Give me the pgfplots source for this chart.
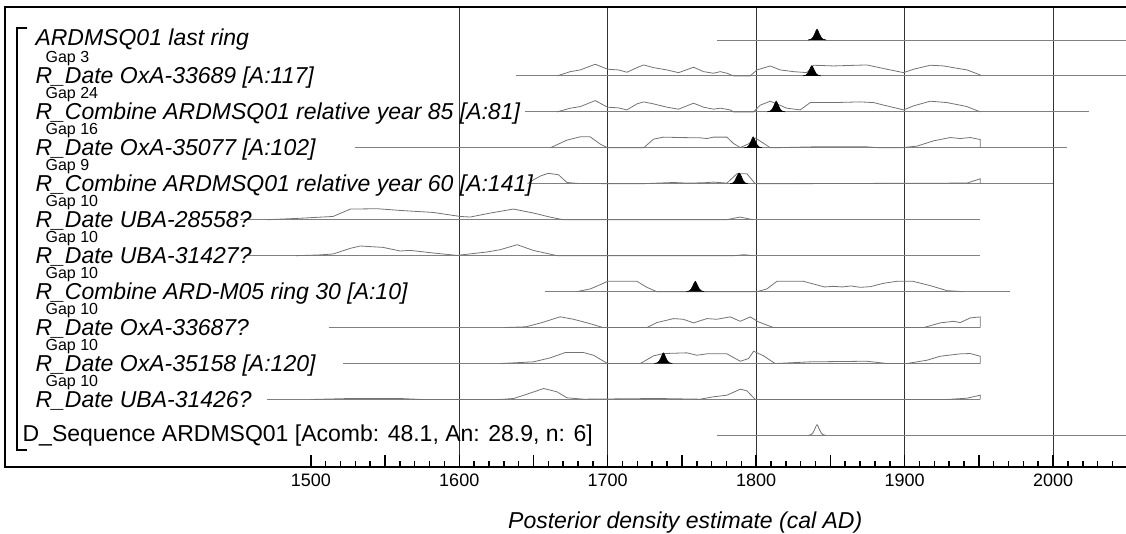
\documentclass[border=0pt]{standalone}
\usepackage{pgfplots}
\pgfplotsset{compat=1.18}
\usepackage{fontspec}
\setmainfont{Liberation Sans}

\newcommand\rowfont{\fontsize{11.5}{13}\selectfont\itshape}
\newcommand\gapfont{\fontsize{8}{9}\selectfont}

% y unit = 1 px of the reference, rows sit on these baselines
\pgfplotsset{
  base/.style={black!50, line width=0.45pt},
  prior/.style={black!55, line width=0.4pt},
  post/.style={fill=black, draw=black, line width=0.3pt},
  r1/.style={y filter/.expression={y+427}},
  r2/.style={y filter/.expression={y+391.05}},
  r3/.style={y filter/.expression={y+355.1}},
  r4/.style={y filter/.expression={y+319.15}},
  r5/.style={y filter/.expression={y+283.2}},
  r6/.style={y filter/.expression={y+247.25}},
  r7/.style={y filter/.expression={y+211.3}},
  r8/.style={y filter/.expression={y+175.35}},
  r9/.style={y filter/.expression={y+139.4}},
  r10/.style={y filter/.expression={y+103.45}},
  r11/.style={y filter/.expression={y+67.5}},
  r12/.style={y filter/.expression={y+31.55}},
}

\begin{document}
\begin{tikzpicture}
\begin{axis}[
  x=0.74225pt, y=0.5pt,
  xmin=1294, xmax=2070, ymin=0, ymax=460,
  enlargelimits=false, clip=false,
  axis line style={line width=1pt},
  ytick=\empty,
  xtick={1600,1700,1800,1900,2000},
  extra x ticks={1500,1550,1650,1750,1850,1950,2050},
  extra x tick labels={1500,,,,,,},
  extra x tick style={grid=none},
  minor xtick={1510,1520,...,2040},
  xtick pos=bottom,
  tick align=inside,
  major tick length=6pt, minor tick length=3pt,
  xmajorgrids,
  major grid style={black!80, line width=0.5pt},
  tick style={black, line width=0.75pt},
  xticklabel style={font=\fontsize{9}{10}\selectfont, yshift=0pt},
  /pgf/number format/assume math mode=true,
  /pgf/number format/set thousands separator={},
]

% ---- row 1: ARDMSQ01 last ring
\addplot[base, r1] table {
1773.6 0
2070 0
};
\addplot[post, r1] table {
1835 0
1837 0.8
1838.2 2.5
1839.4 6
1840.5 9.8
1841 10.7
1841.5 9.8
1842.6 6
1843.8 2.5
1845 0.8
1847 0
};

% ---- row 2: OxA-33689
\addplot[base, r2] table {
1638 0
2070 0
};
\addplot[prior, r2] table {
1665.8 0
1674.8 4.3
1681.5 6
1691.6 11.7
1699.9 6.7
1707.3 6
1712.9 3.7
1719.7 8.3
1724.2 11
1730.9 8.3
1739.9 6
1747.7 3.3
1757.8 8.7
1764.6 4.3
1771.3 2.7
1775.8 4.3
1780.3 2.7
1784.8 0
1796.0 0
1800.5 6
1809.5 10
1816.2 6
1825.2 4.3
1834.2 3.3
1838.7 10.7
1852.1 10
1874.6 11
1888.1 6.7
1899.3 3.3
1906.0 6.7
1917.3 10.7
1926.2 10
1935.2 7.7
1942.0 6
1951.0 1
1951.0 0
};
\addplot[post, r2] table {
1831.5 0
1833.5 0.8
1834.7 2.5
1835.9 6
1837 9.4
1837.5 10.3
1838 9.4
1839.1 6
1840.3 2.5
1841.5 0.8
1843.5 0
};

% ---- row 3: Combine relative year 85
\addplot[base, r3] table {
1644 0
2024.5 0
};
\addplot[prior, r3] table {
1665.8 0
1674.8 3.7
1681.5 5.3
1691.6 11.3
1699.9 4.7
1707.3 4
1712.9 2
1719.7 8
1724.2 10
1730.9 8
1739.9 4.7
1747.7 2.7
1757.8 8.7
1764.6 4.7
1771.3 2.7
1775.8 3.7
1782.5 2
1784.8 0
1798.3 0
1802.7 6.7
1809.5 10.7
1820.7 3.7
1829.7 2
1836.4 9.3
1852.1 9.3
1870.1 10
1879.1 9.3
1888.1 6
1899.3 2
1906.0 6
1917.3 10.7
1928.5 9.3
1937.5 6.7
1942.0 5.3
1951.0 0
};
\addplot[post, r3] table {
1807.5 0
1809.5 0.8
1810.7 2.5
1811.9 6
1813 9.8
1813.5 10.7
1814 9.8
1815.1 6
1816.3 2.5
1817.5 0.8
1819.5 0
};

% ---- row 4: OxA-35077
\addplot[base, r4] table {
1529.5 0
2009.6 0
};
\addplot[prior, r4] table {
1661.3 0
1672.5 7.7
1681.5 11
1688.2 11
1695.0 3.7
1699.9 0
1724.2 0
1730.9 8.7
1737.6 10.7
1748.9 10.3
1762.3 10
1766.8 9.3
1771.3 10.7
1780.3 10.7
1784.8 4.3
1789.3 0.3
1794.9 4
1799.5 9.8
1804.5 5
1809.6 0
1838.7 1
1874.6 1
1883.6 0
1897.0 0
1908.3 1.7
1919.5 7
1930.7 10.3
1937.5 9.3
1944.2 10.3
1951.0 8.3
1951.0 0
};
\addplot[post, r4] table {
1792 0
1794 0.8
1795.2 2.6
1796.4 6.2
1797.5 10
1798 11
1798.5 10
1799.6 6.2
1800.8 2.6
1802 0.8
1804 0
};

% ---- row 5: Combine relative year 60
\addplot[base, r5] table {
1648 0
2000 0
};
\addplot[prior, r5] table {
1646 0
1650 4
1655 8
1660 10.5
1666.9 9
1672.5 1.3
1680.4 0.3
1721.9 0
1744.4 1.3
1753.3 0.7
1764.6 1
1771.3 1.7
1780.3 0.7
1787.0 10
1793.8 10
1799.4 0
1942.0 0.7
1951.0 5
1951.0 0
};
\addplot[post, r5] table {
1782.5 0
1784.5 1
1785.7 3
1786.9 7
1788 10.2
1788.5 10.7
1789 10.2
1790.1 7
1791.3 3
1792.5 1
1794.5 0
};

% ---- row 6: UBA-28558?
\addplot[base, r6] table {
1452 0
1951 0
};
\addplot[prior, r6] table {
1470.6 0
1493 1.5
1515 3.3
1526.7 10.7
1545 11
1560.3 9.3
1582.4 7.3
1600.6 3.3
1607.3 2.7
1621 6.7
1636.5 10.7
1650 6.7
1661 2.7
1670 0
1780 0
1789 2.7
1798 0
};

% ---- row 7: UBA-31427?
\addplot[base, r7] table {
1458 0
1951 0
};
\addplot[prior, r7] table {
1490 0
1505 0.7
1515 1.7
1526.5 7.3
1533.2 9.7
1548.7 8.3
1560.2 4.7
1567 5.3
1582.4 2.7
1598.5 0.3
1618.7 3.7
1627.6 6
1639 11
1649.8 5.3
1666 0
1785 0
1792 1
1798 0
};

% ---- row 8: Combine ARD-M05 ring 30
\addplot[base, r8] table {
1657.5 0
1971.2 0
};
\addplot[prior, r8] table {
1679.2 0
1688.2 2.7
1695.0 7
1699.9 10.3
1719.7 10.3
1726.4 4.3
1733.1 0
1800.5 0
1807.2 2.7
1814.0 10.3
1831.9 10.3
1838.5 7.7
1846 4.7
1852 5.3
1858 4.7
1864 5.7
1870 4.3
1877 5
1885.6 8.3
1894.6 10.3
1905.8 10.3
1917.3 6
1928.6 1
1939.5 0
};
\addplot[post, r8] table {
1753 0
1755 0.8
1756.2 2.5
1757.4 6
1758.5 9.4
1759 10.3
1759.5 9.4
1760.6 6
1761.8 2.5
1763 0.8
1765 0
};

% ---- row 9: OxA-33687?
\addplot[base, r9] table {
1512 0
1951 0
};
\addplot[prior, r9] table {
1630 0
1645 0.8
1655 4.7
1668 10.8
1677 8.3
1688 4
1697 0
1726.4 0
1733.1 5
1744.4 9
1751 8.3
1757.8 4.7
1766.8 9
1773.5 8.3
1782.5 10.7
1789.3 6.3
1796 10.7
1801.6 5.7
1811.7 0
1912.8 0
1924 4.7
1933 6.3
1937.5 5
1944.2 9.7
1951 10.7
1951 0
};

% ---- row 10: OxA-35158
\addplot[base, r10] table {
1522 0
1951 0
};
\addplot[prior, r10] table {
1627.6 0
1650 1.7
1661.3 5.7
1671.4 11
1683.7 11
1690.4 8.3
1699.9 0
1721.9 0
1730.9 7.7
1737.6 10
1753.3 10.7
1760.1 8.3
1766.8 9.7
1780.3 9.7
1789.3 2.3
1794.9 5
1798.3 12.3
1805 7.7
1812.8 0
1836.4 1.7
1874.6 2.3
1888.1 0
1901.5 0
1915 3.3
1924 7.3
1937.5 9.7
1944.2 10
1951 7.3
1951 0
};
\addplot[post, r10] table {
1731.5 0
1733.5 0.8
1734.7 2.5
1735.9 6
1737 9.8
1737.5 10.7
1738 9.8
1739.1 6
1740.3 2.5
1741.5 0.8
1743.5 0
};

% ---- row 11: UBA-31426?
\addplot[base, r11] table {
1470.6 0
1951 0
};
\addplot[prior, r11] table {
1500 0
1526.7 1
1560 1
1575 0
1627.6 0
1636.6 1
1645.6 5.3
1656.8 11
1665.8 7.7
1672.5 1.7
1683.7 0.3
1733.1 1
1762.3 0.3
1771.3 2.7
1780.3 4.3
1789.3 10.3
1793.8 8.7
1799.4 0
1928.5 0
1942 1.3
1951 4.3
1951 0
};

% ---- row 12: D_Sequence
\addplot[base, r12] table {
1773.6 0
2070 0
};
\addplot[prior, r12] table {
1835 0
1837 0.8
1838.2 2.5
1839.4 6
1840.5 9.8
1841 10.7
1841.5 9.8
1842.6 6
1843.8 2.5
1845 0.8
1847 0
};

% labels
\node[anchor=base west, inner sep=0, font=\rowfont] at (axis cs:1314.3,421.75) {ARDMSQ01 last ring};
\node[anchor=base west, inner sep=0, font=\rowfont] at (axis cs:1314.3,383.05) {R\_Date OxA-33689 [A:117]};
\node[anchor=base west, inner sep=0, font=\rowfont] at (axis cs:1314.3,347.1) {R\_Combine ARDMSQ01 relative year 85 [A:81]};
\node[anchor=base west, inner sep=0, font=\rowfont] at (axis cs:1314.3,311.15) {R\_Date OxA-35077 [A:102]};
\node[anchor=base west, inner sep=0, font=\rowfont] at (axis cs:1314.3,275.2) {R\_Combine ARDMSQ01 relative year 60 [A:141]};
\node[anchor=base west, inner sep=0, font=\rowfont] at (axis cs:1314.3,239.25) {R\_Date UBA-28558?};
\node[anchor=base west, inner sep=0, font=\rowfont] at (axis cs:1314.3,203.3) {R\_Date UBA-31427?};
\node[anchor=base west, inner sep=0, font=\rowfont] at (axis cs:1314.3,167.35) {R\_Combine ARD-M05 ring 30 [A:10]};
\node[anchor=base west, inner sep=0, font=\rowfont] at (axis cs:1314.3,131.4) {R\_Date OxA-33687?};
\node[anchor=base west, inner sep=0, font=\rowfont] at (axis cs:1314.3,95.45) {R\_Date OxA-35158 [A:120]};
\node[anchor=base west, inner sep=0, font=\rowfont] at (axis cs:1314.3,59.5) {R\_Date UBA-31426?};
\node[anchor=base west, inner sep=0, font=\fontsize{11.5}{13}\selectfont] at (axis cs:1305.6,25.5) {D\_Sequence ARDMSQ01 [Acomb: 48.1, An: 28.9, n: 6]};

\node[anchor=base west, inner sep=0, font=\gapfont] at (axis cs:1321.1,404.05) {Gap 3};
\node[anchor=base west, inner sep=0, font=\gapfont] at (axis cs:1321.1,368.1) {Gap 24};
\node[anchor=base west, inner sep=0, font=\gapfont] at (axis cs:1321.1,332.15) {Gap 16};
\node[anchor=base west, inner sep=0, font=\gapfont] at (axis cs:1321.1,296.2) {Gap 9};
\node[anchor=base west, inner sep=0, font=\gapfont] at (axis cs:1321.1,260.25) {Gap 10};
\node[anchor=base west, inner sep=0, font=\gapfont] at (axis cs:1321.1,224.3) {Gap 10};
\node[anchor=base west, inner sep=0, font=\gapfont] at (axis cs:1321.1,188.35) {Gap 10};
\node[anchor=base west, inner sep=0, font=\gapfont] at (axis cs:1321.1,152.4) {Gap 10};
\node[anchor=base west, inner sep=0, font=\gapfont] at (axis cs:1321.1,116.45) {Gap 10};
\node[anchor=base west, inner sep=0, font=\gapfont] at (axis cs:1321.1,80.5) {Gap 10};

% sequence bracket
\draw[line width=0.75pt] (axis cs:1309,439) -- (axis cs:1302.2,439) -- (axis cs:1302.2,17) -- (axis cs:1309,17);

\node[anchor=base, inner sep=0, font=\fontsize{11.5}{13}\selectfont\itshape] at (axis cs:1752.2,-61.3) {Posterior density estimate (cal AD)};

\coordinate (bl) at (axis cs:1290.63,-67);
\coordinate (tr) at (axis cs:2049.14,467);
\end{axis}
\pgfresetboundingbox
\useasboundingbox (bl) rectangle (tr);
\end{tikzpicture}
\end{document}
